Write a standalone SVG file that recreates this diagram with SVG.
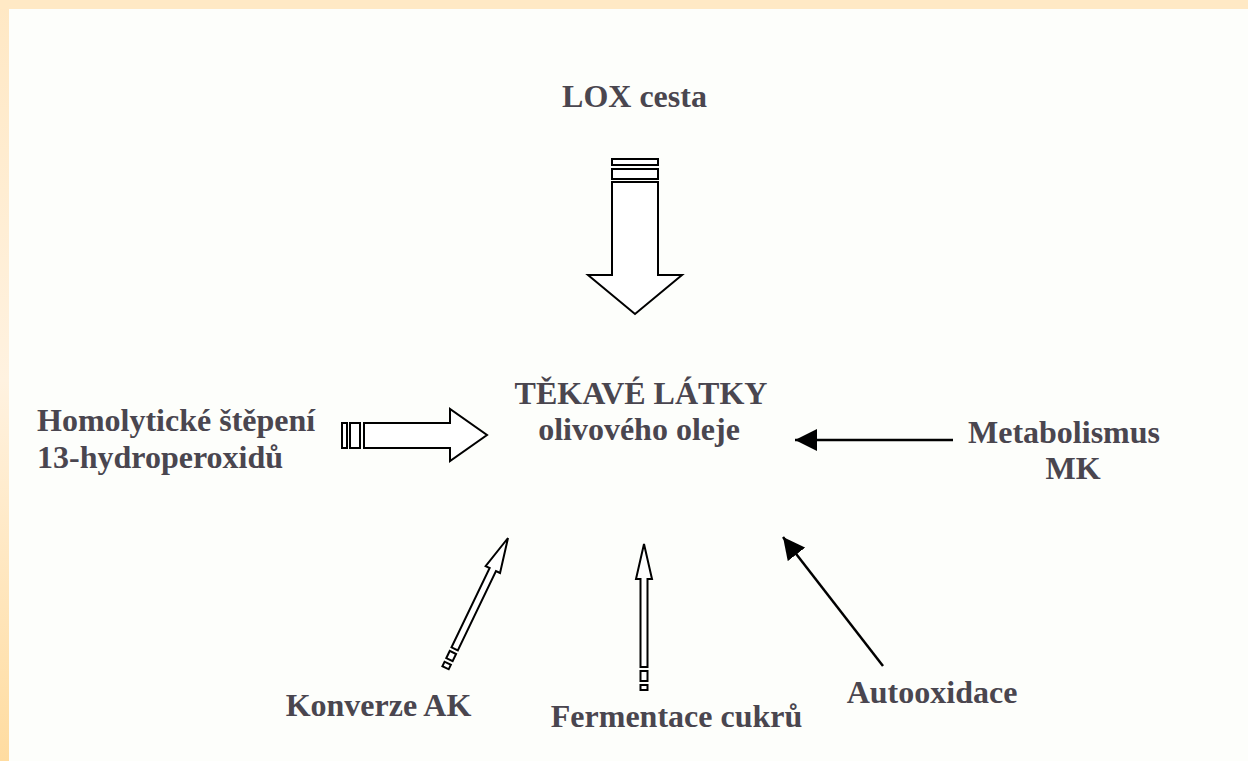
<svg xmlns="http://www.w3.org/2000/svg" width="1248" height="761" viewBox="0 0 1248 761">
<defs>
<linearGradient id="leftband" x1="0" y1="0" x2="0" y2="1">
<stop offset="0" stop-color="#FFE8C4"/>
<stop offset="0.5" stop-color="#FFF2E0"/>
<stop offset="1" stop-color="#FFDCA0"/>
</linearGradient>
<marker id="head" markerUnits="userSpaceOnUse" markerWidth="22" markerHeight="22" viewBox="0 0 20 20" refX="20" refY="10" orient="auto">
<path d="M0,0 L20,10 L0,20 Z" fill="#000"/>
</marker>
<style>
.lbl{font-family:"Liberation Serif","Times New Roman",serif;font-weight:bold;font-size:32px;fill:#4a464f}
.outline{fill:#fff;stroke:#000;stroke-width:2;stroke-linejoin:miter}
.line{stroke:#000;stroke-width:2.5;fill:none}
</style>
</defs>
<rect x="0" y="0" width="1248" height="761" fill="#FDFEFB"/>
<rect x="0" y="0" width="9" height="761" fill="url(#leftband)"/>
<rect x="0" y="0" width="1248" height="9" fill="#FFE9C5"/>

<g id="connectors">
<g id="arrow-lox">
<rect class="outline" x="612" y="159" width="46" height="6"/>
<rect class="outline" x="612" y="169" width="46" height="10"/>
<polygon class="outline" points="612,182 658,182 658,275 682,275 635,314 588,275 612,275"/>
</g>
<g id="arrow-homolyticke">
<rect class="outline" x="342" y="423" width="5" height="25"/>
<rect class="outline" x="350" y="423" width="10" height="25"/>
<polygon class="outline" points="364,423 450,423 450,409 487,435 450,461 450,448 364,448"/>
</g>
<g id="arrow-konverze" transform="translate(508,538) rotate(25.7)">
<polygon class="outline" points="0,0 8,35 3.5,35 3.5,123 -3.5,123 -3.5,35 -8,35"/>
<rect class="outline" x="-3.5" y="127" width="7" height="8"/>
<rect class="outline" x="-3.5" y="139" width="7" height="5"/>
</g>
<g id="arrow-fermentace" transform="translate(644,544)">
<polygon class="outline" points="0,0 8,35 3.5,35 3.5,123 -3.5,123 -3.5,35 -8,35"/>
<rect class="outline" x="-3.5" y="127" width="7" height="10"/>
<rect class="outline" x="-3.5" y="141" width="7" height="5"/>
</g>
<line id="arrow-metabolismus" class="line" x1="953" y1="440" x2="795" y2="440" marker-end="url(#head)"/>
<line id="arrow-autooxidace" class="line" x1="883" y1="666" x2="783" y2="537" marker-end="url(#head)"/>
</g>

<g id="node-lox"><text class="lbl" x="634.5" y="107" text-anchor="middle">LOX cesta</text></g>
<g id="node-center">
<text class="lbl" x="641" y="404" text-anchor="middle">TĚKAVÉ LÁTKY</text>
<text class="lbl" x="639" y="440" text-anchor="middle">olivového oleje</text>
</g>
<g id="node-homolyticke">
<text class="lbl" x="37" y="431">Homolytické štěpení</text>
<text class="lbl" x="37" y="468">13-hydroperoxidů</text>
</g>
<g id="node-metabolismus">
<text class="lbl" x="1064" y="443" text-anchor="middle">Metabolismus</text>
<text class="lbl" x="1073" y="479" text-anchor="middle">MK</text>
</g>
<g id="node-konverze"><text class="lbl" x="378.5" y="716" text-anchor="middle">Konverze AK</text></g>
<g id="node-fermentace"><text class="lbl" x="676.5" y="727" text-anchor="middle">Fermentace cukrů</text></g>
<g id="node-autooxidace"><text class="lbl" x="932" y="703" text-anchor="middle">Autooxidace</text></g>
</svg>
